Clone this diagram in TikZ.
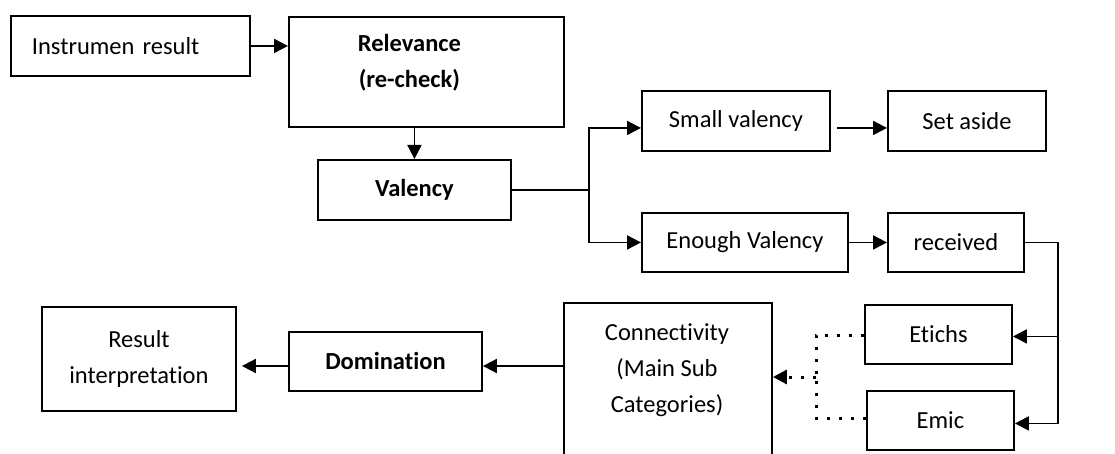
\documentclass[tikz,border=0pt]{standalone}
\usepackage{fontspec}
\setmainfont{Carlito}[Ligatures=NoCommon]
\usetikzlibrary{arrows.meta}
\begin{document}
\begin{tikzpicture}[x=1pt,y=-1pt,
  box/.style={draw, line width=1.9pt, inner sep=0pt, align=center, anchor=north west, font=\fontsize{24.5}{36}\selectfont},
  txt/.style={align=center, inner sep=0pt, font=\fontsize{24.5}{36}\selectfont},
  arr/.style={line width=1.9pt, -{Triangle[length=14pt,width=14pt]}},
  ln/.style={line width=1.9pt},
  dots/.style={line width=3pt, dash pattern=on 3pt off 9pt}
]
\useasboundingbox (0,0) rectangle (1115,454);
\clip (0,0) rectangle (1115,454);
\fill[white] (0,0) rectangle (1115,454);

% boxes
\node[box, minimum height=60pt, text width=197pt, align=left, inner xsep=21pt] (inst) at (10,15) {Instrumen result};
\node[box, minimum width=275pt, minimum height=110pt] (rel) at (288,16) {};
\node[txt] (reltxt) at ([xshift=-17pt,yshift=9pt]rel.center) {\textbf{Relevance}\\\textbf{(re-check)}};
\node[box, minimum width=193pt, minimum height=60pt] (val) at (317,159) {\textbf{Valency}};
\node[box, minimum width=188pt, minimum height=60pt] (small) at (641,90) {Small valency};
\node[box, minimum width=158pt, minimum height=60pt] (aside) at (887,90) {Set aside};
\node[box, minimum width=206pt, minimum height=59pt] (enough) at (641,212) {Enough Valency};
\node[box, minimum width=136pt, minimum height=59pt] (rec) at (887,212) {received};
\node[box, minimum width=147pt, minimum height=59pt] (etichs) at (864,304) {Etichs};
\node[box, minimum width=147pt, minimum height=59pt] (emic) at (866,390) {Emic};
\node[box, minimum width=208pt, minimum height=175pt] (conn) at (563,302) {};
\node[txt] (conntxt) at (667,370) {Connectivity\\(Main Sub\\Categories)};
\node[box, minimum width=193pt, minimum height=59pt] (dom) at (288,331) {\textbf{Domination}};
\node[box, minimum width=194pt, minimum height=104pt] (res) at (41,306) {Result\\interpretation};

% connectors
\draw[arr] (inst.east) -- (inst.east -| rel.west);
\draw[arr] (rel.south -| val.north) -- (val.north);
\coordinate (j) at (589,0);
\draw[ln] (val.east) -- (val.east -| j);
\draw[arr] (val.east -| j) |- ([yshift=-7pt]small.west);
\draw[arr] (val.east -| j) |- (enough.west);
\draw[arr] ([xshift=6pt,yshift=-7pt]small.east) -- ([yshift=-7pt]aside.west);
\draw[arr] (enough.east) -- (rec.west);
\coordinate (r) at (1058,0);
\draw[ln] (rec.east) -- (rec.east -| r);
\draw[arr] (rec.east -| r) |- ([yshift=-2pt]etichs.east);
\draw[arr] (rec.east -| r) |- ([yshift=-3pt]emic.east);

\coordinate (d) at (816,377);
\draw[dots] ([yshift=-1pt]etichs.west) -| (d);
\draw[dots] ([yshift=2pt]emic.west) -| (d);
\draw[dots, -{Triangle[length=14pt,width=14pt]}] (d) -- (d -| conn.east);

\coordinate (dl) at (0,366);
\draw[arr] (conn.west |- dl) -- (dom.east |- dl);
\draw[arr] (dom.west |- dl) -- ([xshift=5pt]res.east |- dl);
\end{tikzpicture}
\end{document}
